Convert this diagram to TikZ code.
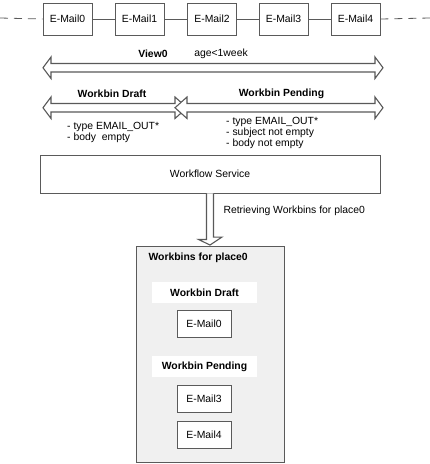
\documentclass[tikz,border=0pt]{standalone}
\usepackage{fontspec}
\setmainfont{Liberation Sans}
\usepackage{tikz}
\usepackage{xcolor}
\definecolor{tgray}{RGB}{90,90,90}
\definecolor{tbin}{RGB}{240,240,240}
\usetikzlibrary{arrows}

\begin{document}
\begin{tikzpicture}[x=1pt,y=-1pt]
\tikzstyle{every node} = [
  font=\fontsize{10.4}{11}\selectfont
]
\tikzstyle{mailBox} = [
  shape=rectangle,
  draw = tgray,
  line width = 0.9,
  fill = white,
  minimum width=49pt,
  minimum height=32pt,
  inner sep=0pt
]
\tikzstyle{binLabel} = [
  shape=rectangle,
  fill = white,
  font=\fontsize{10.4}{11}\selectfont\bfseries,
  minimum width=105pt,
  minimum height=21pt,
  inner sep=0pt
]
\tikzstyle{tedge} = [
  draw = tgray,
  line width = 0.8
]
\tikzstyle{blockArrow} = [
  draw = black!65,
  line width = 1.1,
  fill = white,
  line join = miter
]

\useasboundingbox (0,0) rectangle (430,464);

% mail chain
\node[mailBox] (m0) at (67.5,19) {E-Mail0};
\node[mailBox] (m1) at (139.5,19) {E-Mail1};
\node[mailBox] (m2) at (212,19) {E-Mail2};
\node[mailBox] (m3) at (283.5,19) {E-Mail3};
\node[mailBox] (m4) at (355.5,19) {E-Mail4};
\coordinate (cl) at (0,18);
\coordinate (cr) at (430,18);

\draw[tedge] (m0) -- (m1) -- (m2) -- (m3) -- (m4);
\draw[tedge, dashed, dash pattern=on 8pt off 6pt] (cl) -- (m0.west);
\draw[tedge, dashed, dash pattern=on 8pt off 6pt] (m4.east) -- (cr);

% view
\node[font=\fontsize{10.4}{11}\selectfont\bfseries] (view) at (153,54) {View0};
\node (age) at (221,54) {age<1week};
\draw[blockArrow] (43,67.75) -- (51,57) -- (51,63.5) -- (375,63.5) -- (375,57) -- (383,67.75)
  -- (375,78.5) -- (375,72) -- (51,72) -- (51,78.5) -- cycle;

% workbins
\node[font=\fontsize{10.4}{11}\selectfont\bfseries] (wd) at (112,93.5) {Workbin Draft};
\node[font=\fontsize{10.4}{11}\selectfont\bfseries] (wp) at (281.5,93.5) {Workbin Pending};
\draw[blockArrow] (43,107.75) -- (51,97) -- (51,103.5) -- (175,103.5) -- (175,97) -- (187,107.75)
  -- (175,118.5) -- (175,112) -- (51,112) -- (51,118.5) -- cycle;
\draw[blockArrow] (383,107.75) -- (375,97) -- (375,103.5) -- (187,103.5) -- (187,97) -- (175,107.75)
  -- (187,118.5) -- (187,112) -- (375,112) -- (375,118.5) -- cycle;

\node[anchor=north west, inner sep=0pt, align=left] (wdRules) at (67,122.5)
  {- type EMAIL\_OUT*\\- body~ empty};
\node[anchor=north west, inner sep=0pt, align=left] (wpRules) at (226,117.5)
  {- type EMAIL\_OUT*\\- subject not empty\\- body not empty};

% service
\node[draw=tgray, line width=0.9, minimum width=340pt, minimum height=38pt, inner sep=0pt]
  (wfs) at (210,174) {Workflow Service};
\node[draw=tgray, line width=0.9, fill=tbin, minimum width=148pt, minimum height=216pt, inner sep=0pt]
  (bins) at (210,354.5) {};

\draw[blockArrow] ([xshift=-3.5]wfs.south) -- ++(0,46) -- ++(-8,0) -- ([yshift=1]bins.north)
  -- ++(12,-8) -- ++(-8.5,0) -- ([xshift=3.5]wfs.south);
\node[anchor=west] (retr) at (220,211) {Retrieving Workbins for place0};

\node[anchor=west, font=\fontsize{10.4}{11}\selectfont\bfseries] (binsTitle) at (145,258) {Workbins for place0};
\node[binLabel] (bd) at (204.5,292.5) {Workbin Draft};
\node[mailBox, minimum width=54pt, minimum height=27pt] (b0) at (204,323.5) {E-Mail0};
\node[binLabel] (bp) at (204.5,366.5) {Workbin Pending};
\node[mailBox, minimum width=54pt, minimum height=27pt] (b3) at (204,399) {E-Mail3};
\node[mailBox, minimum width=54pt, minimum height=27pt] (b4) at (204,435) {E-Mail4};

\end{tikzpicture}
\end{document}
